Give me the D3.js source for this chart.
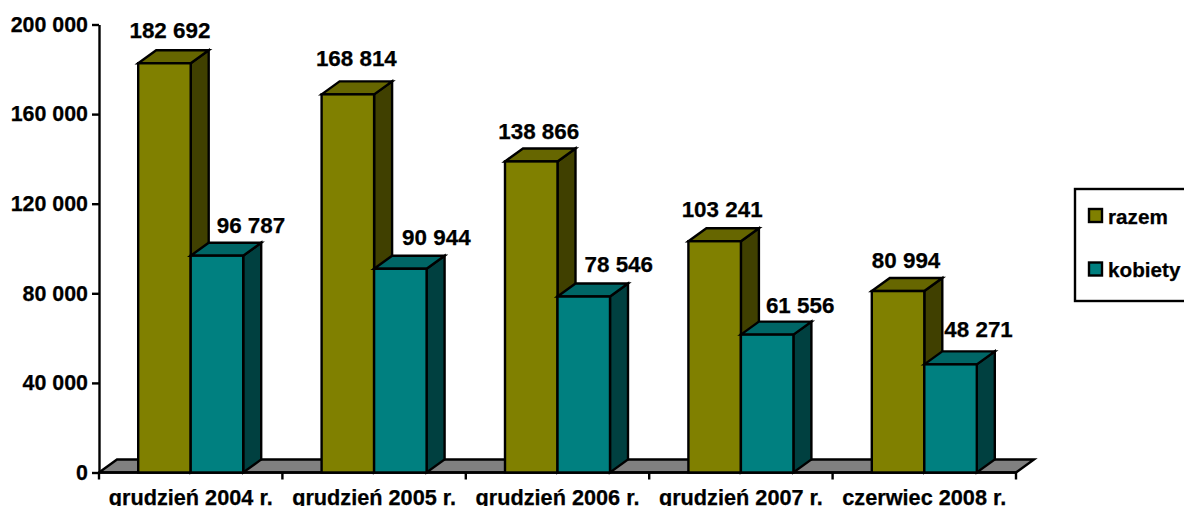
<!DOCTYPE html>
<html><head><meta charset="utf-8">
<script src="https://cdn.jsdelivr.net/npm/d3@7"></script>
<style>html,body{margin:0;padding:0;background:#fff}svg{display:block}text{font-family:"Liberation Sans",Arial,sans-serif;font-weight:bold;fill:#000;stroke:#000;stroke-width:.25px}</style>
</head><body><svg id="c" width="1184" height="506"></svg>
<script>
const categories = ["grudzień 2004 r.","grudzień 2005 r.","grudzień 2006 r.","grudzień 2007 r.","czerwiec 2008 r."];
const razem = [182692,168814,138866,103241,80994];
const kobiety = [96787,90944,78546,61556,48271];
const seriesNames = ["razem","kobiety"];
const yTicks = [0,40000,80000,120000,160000,200000];

const svg = d3.select("#c");
const L=99,R=1016,T=24.5,B=472.5,DX=18,DY=13,SW=2.4;
const x = d3.scaleBand().domain(categories).range([L,R]);
const y = d3.scaleLinear().domain([0,200000]).range([B,T]);
const inner = d3.scaleBand().domain(seriesNames).range([0,105]);
const fmt = v => d3.format(",")(v).replace(/,/g," ");
const colors = {razem:{front:"#808000",top:"#666600",side:"#404000"},kobiety:{front:"#008080",top:"#006666",side:"#004040"}};
const labelDx = {razem:8,kobiety:34};
// hand-placed label nudges of the original, [dx,dy]
const labelNudge = {razem:[[-2.5,0],[0.5,-3],[-0.5,3],[-0.5,1],[0,2]],kobiety:[[0,2],[2,1],[1,0],[-1,3],[-6,-2]]};
const values = {razem,kobiety};
const poly = (g,pts,fill)=>g.append("polygon").attr("points",pts.map(p=>p.join(",")).join(" ")).attr("fill",fill).attr("stroke","#000").attr("stroke-width",SW).attr("stroke-linejoin","miter");

// floor
poly(svg.append("g"),[[L,B],[L+DX,B-DY],[R+DX,B-DY],[R,B]],"#808080");

// axes
const ax = svg.append("g").attr("transform",`translate(${L},0)`)
  .call(d3.axisLeft(y).tickValues(yTicks).tickFormat(fmt).tickSize(7).tickSizeOuter(0).tickPadding(4));
const bx = svg.append("g").attr("transform",`translate(0,${B})`)
  .call(d3.axisBottom(x).tickSize(0).tickPadding(17));
bx.select(".domain").remove();
ax.selectAll("line,path").attr("stroke","#000").attr("stroke-width",SW);
ax.selectAll("text").style("font-size","21.4px").attr("fill","#000");
bx.selectAll("text").style("font-size","21.7px").attr("fill","#000");
svg.append("g").selectAll("line").data(categories.concat([null])).join("line")
  .attr("x1",d=>d?x(d):R).attr("x2",d=>d?x(d):R).attr("y1",B).attr("y2",B+7).attr("stroke","#000").attr("stroke-width",SW);
svg.append("line").attr("x1",L).attr("x2",R).attr("y1",B).attr("y2",B).attr("stroke","#000").attr("stroke-width",SW);

// bars
categories.forEach((c,i)=>{
  const g = svg.append("g");
  const x0 = x(c)+(x.bandwidth()-105)/2;
  seriesNames.forEach(s=>{
    const v = values[s][i], a = x0+inner(s), w = inner.bandwidth(), t = y(v), col = colors[s];
    poly(g,[[a+w,t],[a+w+DX,t-DY],[a+w+DX,B-DY],[a+w,B]],col.side);
    poly(g,[[a,t],[a+DX,t-DY],[a+w+DX,t-DY],[a+w,t]],col.top);
    g.append("rect").attr("x",a).attr("y",t).attr("width",w).attr("height",B-t).attr("fill",col.front).attr("stroke","#000").attr("stroke-width",SW);
  });
});
// labels
categories.forEach((c,i)=>{
  const x0 = x(c)+(x.bandwidth()-105)/2;
  seriesNames.forEach(s=>{
    const v = values[s][i], n = labelNudge[s][i];
    svg.append("text").attr("x",x0+inner(s)+inner.bandwidth()/2+labelDx[s]+n[0]).attr("y",y(v)-25+n[1])
      .attr("text-anchor","middle").style("font-size","22.4px").text(fmt(v));
  });
});
// legend
const lg = svg.append("g");
lg.append("rect").attr("x",1075).attr("y",189).attr("width",120).attr("height",112).attr("fill","#fff").attr("stroke","#000").attr("stroke-width",SW);
seriesNames.forEach((s,i)=>{
  const yy = 216+i*53.5;
  lg.append("rect").attr("x",1089).attr("y",yy-7).attr("width",13).attr("height",13).attr("fill",colors[s].front).attr("stroke","#000").attr("stroke-width",SW);
  lg.append("text").attr("x",1108).attr("y",yy+7.5).style("font-size","20.7px").text(s);
});
</script></body></html>
